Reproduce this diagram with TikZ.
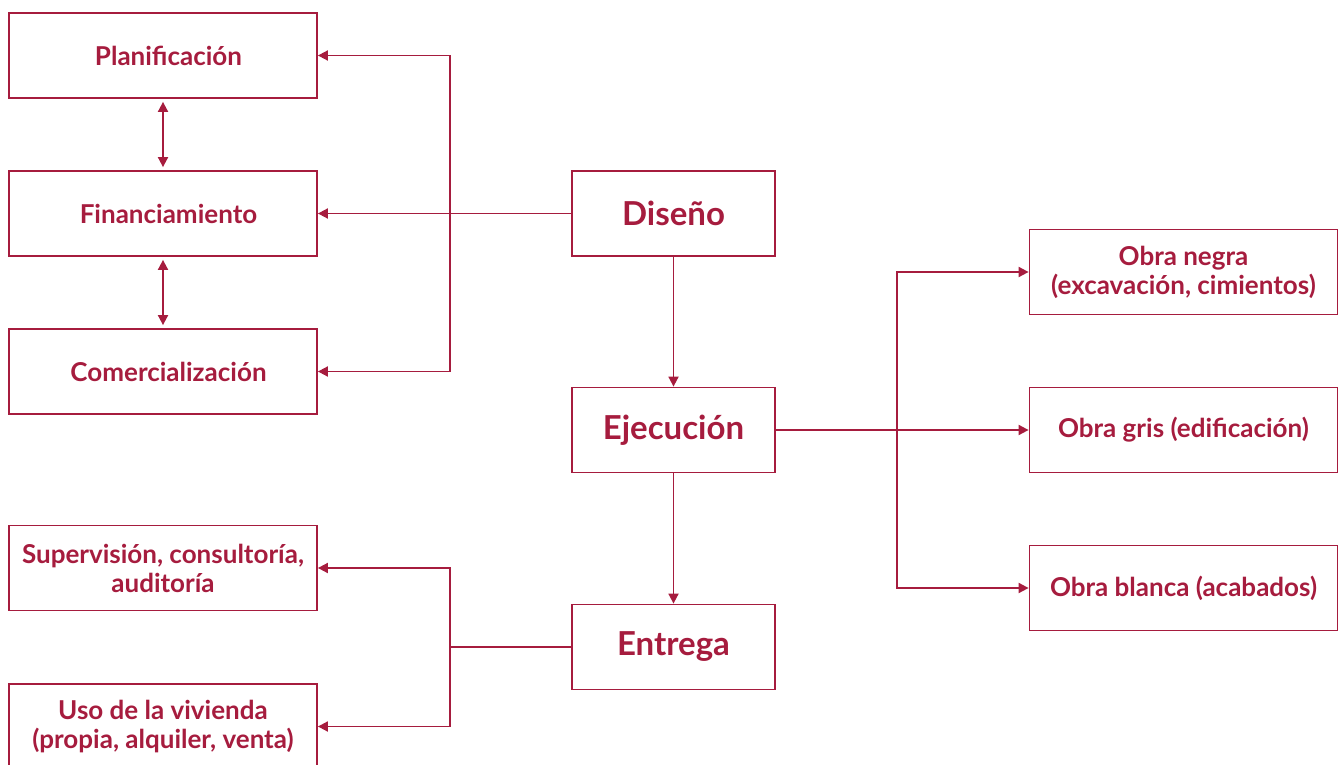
\documentclass[tikz,border=0pt]{standalone}
\usepackage{fontspec}
\setmainfont{Lato}
\usetikzlibrary{arrows.meta}
\definecolor{wine}{RGB}{166,28,62}
\begin{document}
\begin{tikzpicture}[x=1pt,y=-1pt,
  box/.style={draw=wine, line width=1.8pt, text=wine, align=center,
    inner sep=0pt, minimum height=85pt,
    font=\bfseries\fontsize{26}{29}\selectfont},
  sidebox/.style={box, minimum width=308pt},
  nudged/.style={execute at begin node={\hspace*{11pt}}},
  stagebox/.style={box, minimum width=203pt,
    font=\bfseries\fontsize{33}{36}\selectfont},
  link/.style={draw=wine, line width=1.8pt},
  tip/.style={link, -{Triangle[length=10pt,width=10pt]}},
  dbl/.style={link, {Triangle[length=10pt,width=10pt]}-{Triangle[length=10pt,width=10pt]}, shorten <=3pt, shorten >=3pt}]
\clip (0,0) rectangle (1338,765);

% left column
\node[sidebox,nudged] (plan) at (163,55.5)  {Planificación};
\node[sidebox,nudged] (fin)  at (163,213.5) {Financiamiento};
\node[sidebox,nudged] (com)  at (163,371.5) {Comercialización};
\node[sidebox] (sup)  at (163,568)   {Supervisión, consultoría,\\auditoría};
\node[sidebox] (uso)  at (163,726.5) {Uso de la vivienda\\(propia, alquiler, venta)};

% stages
\node[stagebox] (dis) at (673.5,213.5) {Diseño};
\node[stagebox] (eje) at (673.5,430)   {Ejecución};
\node[stagebox] (ent) at (673.5,647)   {Entrega};

% construction phases
\node[sidebox] (negra)  at (1183.5,272) {Obra negra\\(excavación, cimientos)};
\node[sidebox] (gris)   at (1183.5,430) {Obra gris (edificación)};
\node[sidebox] (blanca) at (1183.5,588) {Obra blanca (acabados)};

% junction points
\coordinate (jl) at (450,213.5);
\coordinate (jb) at (450,647);
\coordinate (jr) at (897,430);

% connectors
\draw[dbl] (plan.south) -- (fin.north);
\draw[dbl] (fin.south) -- (com.north);

\draw[tip] (dis.west) -- (fin.east);
\draw[tip] (jl) |- (plan.east);
\draw[tip] (jl) |- (com.east);

\draw[tip] (dis.south) -- (eje.north);
\draw[tip] (eje.south) -- (ent.north);

\draw[tip] (eje.east) -- (gris.west);
\draw[tip] (jr) |- (negra.west);
\draw[tip] (jr) |- (blanca.west);

\draw[link] (ent.west) -- (jb);
\draw[tip] (jb) |- (sup.east);
\draw[tip] (jb) |- (uso.east);
\end{tikzpicture}
\end{document}
